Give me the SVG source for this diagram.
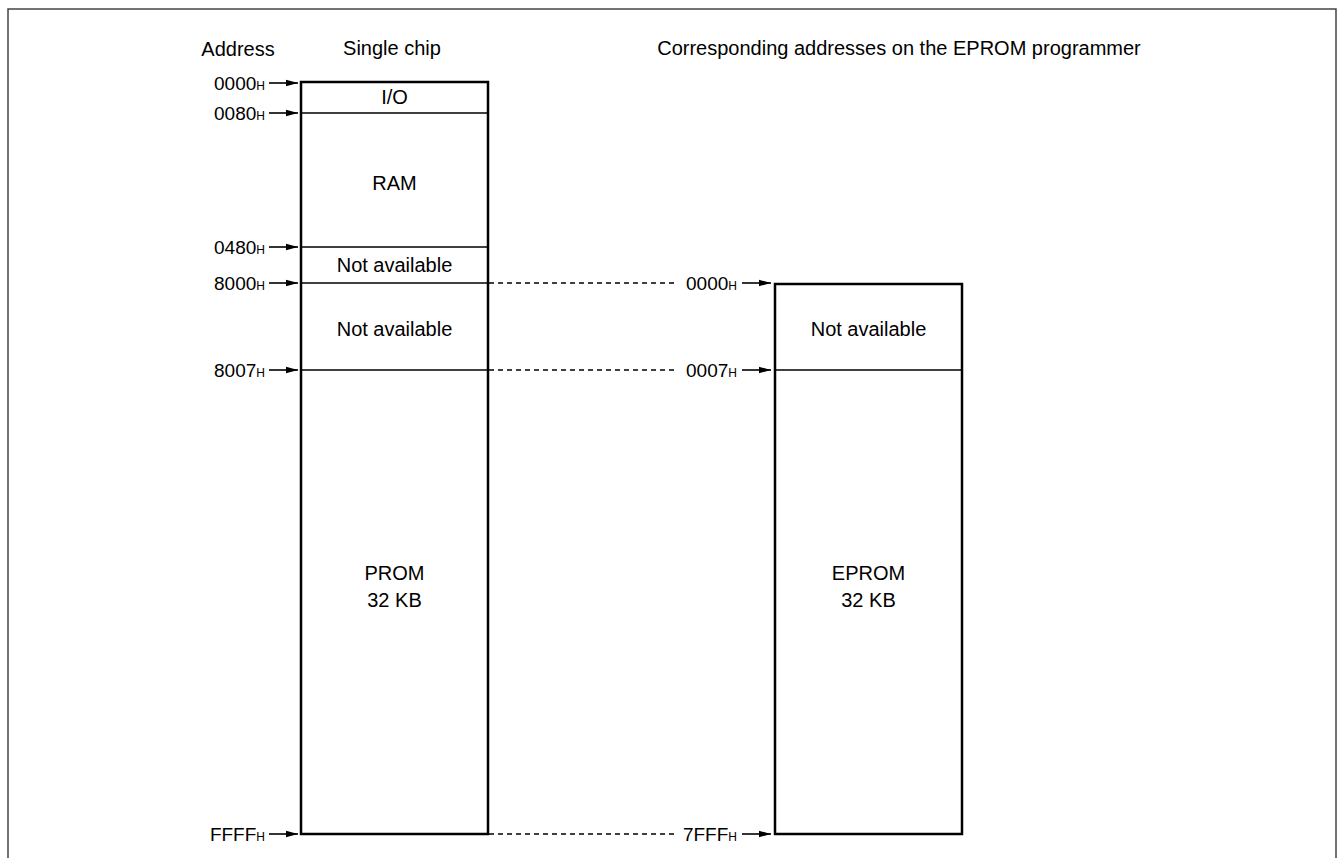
<svg xmlns="http://www.w3.org/2000/svg" width="1338" height="858" viewBox="0 0 1338 858">
<style>
text{font-family:"Liberation Sans",Arial,sans-serif;fill:#000}
.t{font-size:20px;text-anchor:middle}
.a{font-size:19px;text-anchor:end}
.h{font-size:12px}
.box{fill:#fff;stroke:#000;stroke-width:2.5}
.div{stroke:#000;stroke-width:1.3}
.arr{stroke:#000;stroke-width:1.6;fill:none}
.dash{stroke:#000;stroke-width:1.3;stroke-dasharray:5 4;fill:none}
</style>
<defs>
<marker id="ah" markerUnits="userSpaceOnUse" markerWidth="14" markerHeight="10" refX="12" refY="5" orient="auto">
<path d="M0,1.8 L12,5 L0,8.2 Z" fill="#000"/>
</marker>
</defs>
<rect width="1338" height="858" fill="#fff"/>
<path d="M8,858 V9 H1336 V858" fill="none" stroke="#444" stroke-width="1.5"/>
<g id="headers">
<text class="t" x="238" y="56">Address</text>
<text class="t" x="392" y="55">Single chip</text>
<text class="t" x="899" y="55">Corresponding addresses on the EPROM programmer</text>
</g>
<g id="connectors">
<path class="dash" d="M489,283 H677"/>
<path class="dash" d="M489,370 H677"/>
<path class="dash" d="M489,834 H676"/>
<path class="arr" d="M269,83 H298" marker-end="url(#ah)"/>
<path class="arr" d="M269,113 H298" marker-end="url(#ah)"/>
<path class="arr" d="M269,247 H298" marker-end="url(#ah)"/>
<path class="arr" d="M269,283 H298" marker-end="url(#ah)"/>
<path class="arr" d="M269,370 H298" marker-end="url(#ah)"/>
<path class="arr" d="M269,834 H298" marker-end="url(#ah)"/>
<path class="arr" d="M742,283 H771" marker-end="url(#ah)"/>
<path class="arr" d="M742,370 H771" marker-end="url(#ah)"/>
<path class="arr" d="M742,834 H771" marker-end="url(#ah)"/>
</g>
<g id="address-labels">
<text class="a" x="265" y="90">0000<tspan class="h">H</tspan></text>
<text class="a" x="265" y="120">0080<tspan class="h">H</tspan></text>
<text class="a" x="265" y="254">0480<tspan class="h">H</tspan></text>
<text class="a" x="265" y="290">8000<tspan class="h">H</tspan></text>
<text class="a" x="265" y="377">8007<tspan class="h">H</tspan></text>
<text class="a" x="265" y="841">FFFF<tspan class="h">H</tspan></text>
<text class="a" x="737" y="290">0000<tspan class="h">H</tspan></text>
<text class="a" x="737" y="377">0007<tspan class="h">H</tspan></text>
<text class="a" x="737" y="841">7FFF<tspan class="h">H</tspan></text>
</g>
<g id="single-chip">
<rect class="box" x="301" y="82" width="187" height="752"/>
<line class="div" x1="301" y1="113" x2="488" y2="113"/>
<line class="div" x1="301" y1="247" x2="488" y2="247"/>
<line class="div" x1="301" y1="283" x2="488" y2="283"/>
<line class="div" x1="301" y1="370" x2="488" y2="370"/>
<text class="t" x="394.5" y="104">I/O</text>
<text class="t" x="394.5" y="190">RAM</text>
<text class="t" x="394.5" y="272">Not available</text>
<text class="t" x="394.5" y="336">Not available</text>
<text class="t" x="394.5" y="580">PROM</text>
<text class="t" x="394.5" y="607">32 KB</text>
</g>
<g id="eprom">
<rect class="box" x="775" y="284" width="187" height="550"/>
<line class="div" x1="775" y1="370" x2="962" y2="370"/>
<text class="t" x="868.5" y="336">Not available</text>
<text class="t" x="868.5" y="580">EPROM</text>
<text class="t" x="868.5" y="607">32 KB</text>
</g>
</svg>
